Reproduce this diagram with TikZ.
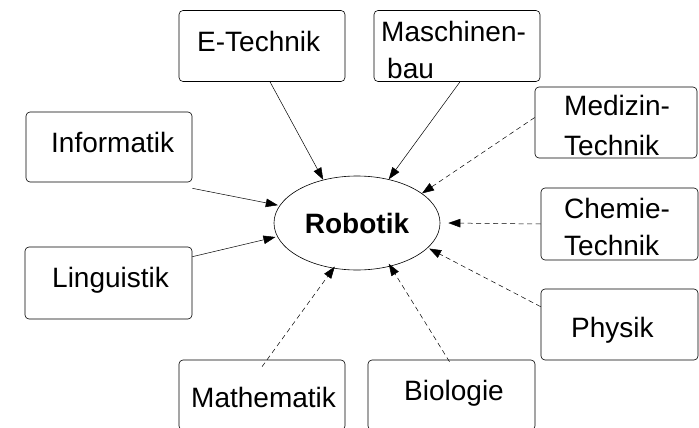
\documentclass[tikz,border=0pt]{standalone}
\usepackage{fontspec}
\setmainfont{Liberation Sans}
\usetikzlibrary{arrows.meta,shapes.geometric}
\begin{document}
\begin{tikzpicture}[x=1pt,y=-1pt,
  box/.style={draw, rounded corners=4pt, minimum width=166pt, minimum height=71pt, inner sep=0pt, line width=0.6pt},
  lbl/.style={font=\fontsize{28}{37}\selectfont, inner sep=0pt, anchor=base west},
  arr/.style={-{Triangle[length=12pt,width=8.5pt]}, line width=0.5pt},
  darr/.style={arr, dash pattern=on 5pt off 3.5pt}]
\useasboundingbox (0,0) rectangle (699,428);
\fill[white] (0,0) rectangle (699,428);
% center ellipse
\node[draw, ellipse, minimum width=166pt, minimum height=94pt, inner sep=0pt, line width=0.6pt,
      font=\fontsize{28}{32}\selectfont\bfseries] (rob) at (357,223) {Robotik};
% boxes
\node[box] (etech) at (262,46) {};
\node[box] (masch) at (457,46) {};
\node[box, minimum height=70pt] (inf) at (109,147) {};
\node[box, minimum height=72pt, minimum width=167pt] (ling) at (108.5,283) {};
\node[box, minimum width=162pt] (med) at (616,122.5) {};
\node[box, minimum width=157pt, minimum height=72pt] (chem) at (619.5,224) {};
\node[box, minimum width=157pt] (phys) at (619.5,324.5) {};
\node[box, minimum height=70pt] (math) at (262,395) {};
\node[box, minimum width=167pt, minimum height=70pt] (bio) at (451.5,395) {};
% texts
\node[lbl] (etecht) at (197,52) {E-Technik};
\node[lbl] (mascht1) at (381,42) {Maschinen-};
\node[lbl] (mascht2) at (387,78) {bau};
\node[lbl] (inft) at (51,152) {Informatik};
\node[lbl] (lingt) at (52,287) {Linguistik};
\node[lbl] (medt1) at (564,115) {Medizin-};
\node[lbl] (medt2) at (564,155) {Technik};
\node[lbl] (chemt1) at (564,218) {Chemie-};
\node[lbl] (chemt2) at (564,255) {Technik};
\node[lbl] (physt) at (571,337) {Physik};
\node[lbl] (matht) at (191,407) {Mathematik};
\node[lbl] (biot) at (404,400) {Biologie};
% solid arrows
\draw[arr] ([xshift=8pt]etech.south) -- (rob.128);
\draw[arr] ([xshift=3pt]masch.south) -- (rob.54);
\draw[arr] ([yshift=-6pt]inf.south east) -- ([xshift=-2pt]rob.167);
\draw[arr] ([yshift=-10pt]ling.north east) -- ([xshift=-2pt]rob.190);
% dashed arrows
\draw[darr] ([yshift=5pt]med.west) -- ([shift={(3pt,-2pt)}]rob.27);
\draw[darr] (chem.west) -- ([xshift=8pt]rob.east);
\draw[darr] ([yshift=-18pt]phys.north west) -- ([xshift=2pt]rob.-20);
\draw[darr] ([xshift=0pt,yshift=-7pt]math.north) -- ([yshift=2pt]rob.-116);
\draw[darr] ([xshift=-2pt,yshift=-2pt]bio.north) -- ([yshift=3pt]rob.-54);
\end{tikzpicture}
\end{document}
